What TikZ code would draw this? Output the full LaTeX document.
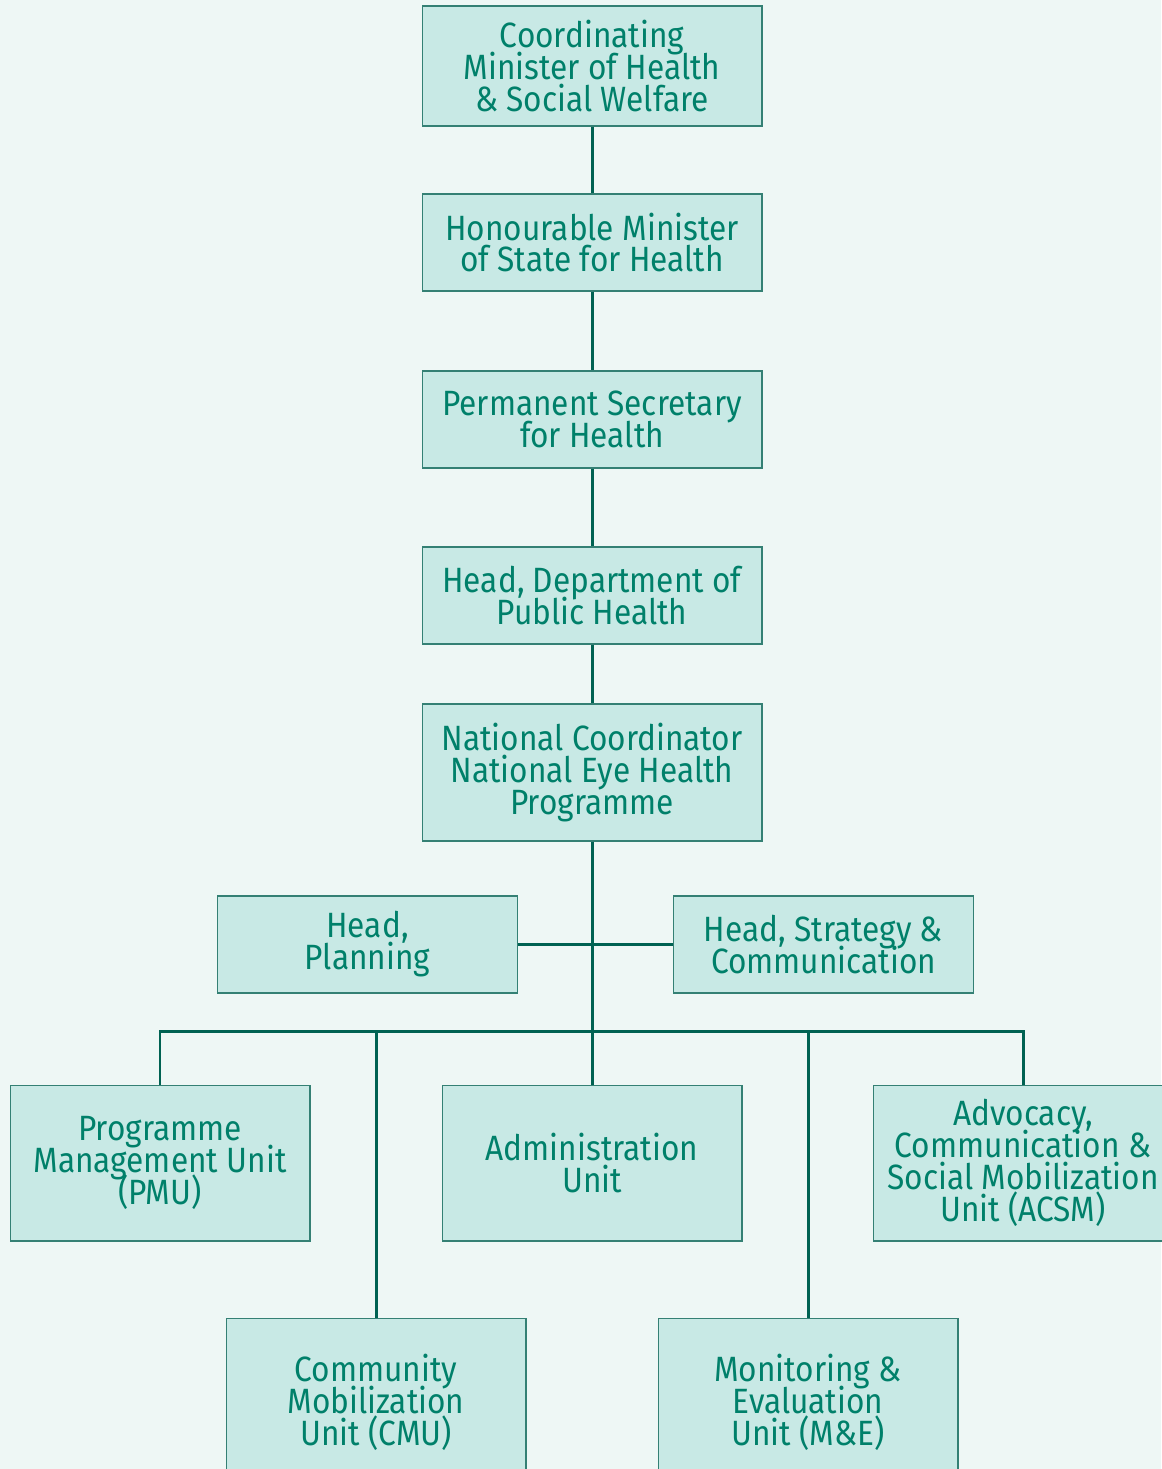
\documentclass[tikz,border=0pt]{standalone}
\usepackage{fontspec}
\setmainfont[FakeStretch=0.9]{Fira Sans}
\definecolor{eyeOrgBackground}{RGB}{238,247,245}
\definecolor{eyeOrgFill}{RGB}{200,233,229}
\definecolor{eyeOrgBorder}{RGB}{52,128,116}
\definecolor{eyeOrgLine}{RGB}{0,98,82}
\definecolor{eyeOrgText}{RGB}{0,128,106}
\newcommand\officeFont{\fontsize{20}{18.2}\selectfont\lineskiplimit=-20pt\relax}
\begin{document}
\begin{tikzpicture}[x=.02cm,y=-.02cm,
      office/.style={draw=eyeOrgBorder, fill=eyeOrgFill, line width=.6pt,
        font=\officeFont, text=eyeOrgText, align=center, inner sep=0pt,
        minimum width=6cm, minimum height=1.94cm},
      link/.style={draw=eyeOrgLine, line width=1.7pt}]
      \useasboundingbox (0,0) rectangle (1161,1469);
      \fill[eyeOrgBackground] (0,0) rectangle (1161,1469);

      % Line of command, top to bottom.
      \node[office, minimum width=6.8cm, minimum height=2.4cm] (coord)
        at (592,66) {Coordinating\\Minister of Health\\\& Social Welfare};
      \node[office, minimum width=6.8cm] (honour)
        at (592,242.5) {Honourable Minister\\of State for Health};
      \node[office, minimum width=6.8cm] (secretary)
        at (592,419.5) {Permanent Secretary\\for Health};
      \node[office, minimum width=6.8cm] (publichealth)
        at (592,595.5) {Head, Department of\\Public Health};
      \node[office, minimum width=6.8cm, minimum height=2.74cm] (natco)
        at (592,772.5) {National Coordinator\\National Eye Health\\Programme};

      % Heads beside the coordinator.
      \node[office] (planning) at (367.5,944.5) {Head,\\Planning};
      \node[office] (strategy) at (823.5,944.5) {Head, Strategy \&\\Communication};

      % Units.
      \node[office, minimum height=3.12cm] (pmu)
        at (160,1163) {Programme\\Management Unit\\(PMU)};
      \node[office, minimum height=3.12cm] (admin)
        at (592,1163) {Administration\\Unit};
      \node[office, minimum height=3.12cm] (acsm)
        at (1023,1163) {Advocacy,\\Communication \&\\Social Mobilization\\Unit (ACSM)};
      \node[office, minimum height=3.36cm] (cmu)
        at (376,1402) {Community\\Mobilization\\Unit (CMU)};
      \node[office, minimum height=3.36cm] (me)
        at (808,1402) {Monitoring \&\\Evaluation\\Unit (M\&E)};

      \coordinate (bus) at (592,1031);
      \draw[link] (coord.south) -- (honour.north);
      \draw[link] (honour.south) -- (secretary.north);
      \draw[link] (secretary.south) -- (publichealth.north);
      \draw[link] (publichealth.south) -- (natco.north);
      \draw[link] (natco.south) -- (admin.north);
      \draw[link] (planning.east) -- (strategy.west);
      \draw[link] (pmu.north) |- (acsm.north |- bus) -- (acsm.north);
      \draw[link] (cmu.north) -- (cmu.north |- bus);
      \draw[link] (me.north) -- (me.north |- bus);
    \end{tikzpicture}
\end{document}
